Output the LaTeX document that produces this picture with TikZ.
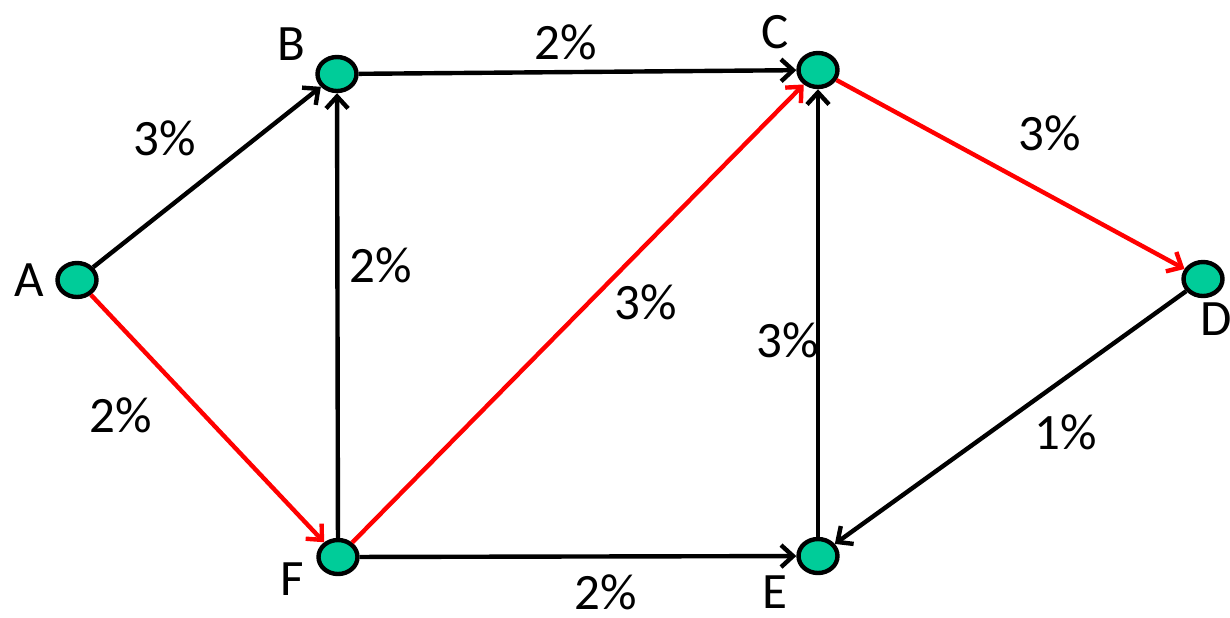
\documentclass[tikz,border=0pt]{standalone}
\usepackage{fontspec}
\setmainfont{Carlito}
\usetikzlibrary{arrows.meta,shapes.geometric}
\definecolor{nodegreen}{RGB}{0,204,153}
\definecolor{pathred}{RGB}{255,0,0}

\begin{document}
\begin{tikzpicture}[x=0.5pt, y=-0.5pt, font=\fontsize{25.5}{30}\selectfont,
	vertex/.style={ellipse, draw=black, line width=2.2pt, fill=nodegreen,
		minimum width=19.5pt, minimum height=17pt, inner sep=0pt},
	edge/.style={line width=2.2pt, -{Straight Barb[length=6pt, width=11pt, line width=2.2pt]}},
	lbl/.style={inner sep=0pt},
	]
	
	\useasboundingbox (0,0) rectangle (1230,617);
	
	% Vertices
	\node[vertex] (A) at (77,280) {};
	\node[vertex] (B) at (337,74) {};
	\node[vertex] (C) at (818,70) {};
	\node[vertex] (D) at (1203,279) {};
	\node[vertex] (E) at (818,556) {};
	\node[vertex] (F) at (338,557) {};
	
	% Vertex labels
	\node[lbl] (labA) at (29,280) {A};
	\node[lbl] (labB) at (291,44) {B};
	\node[lbl] (labC) at (775,32) {C};
	\node[lbl] (labD) at (1216,319) {D};
	\node[lbl] (labE) at (775,592) {E};
	\node[lbl] (labF) at (292,579) {F};
	
	% Black edges
	\draw[edge] (A) -- (B);
	\draw[edge] (B) -- (C);
	\draw[edge] (F) -- (B);
	\draw[edge] (E) -- (C);
	\draw[edge] (D) -- (E);
	\draw[edge] (F) -- (E);
	
	% Red path
	\draw[edge, pathred] (A) -- (F);
	\draw[edge, pathred] (F) -- (C);
	\draw[edge, pathred] (C) -- (D);
	
	% Edge weights
	\node[lbl] (wAB) at (165,138) {3\%};
	\node[lbl] (wBC) at (566,42) {2\%};
	\node[lbl] (wFB) at (381,265) {2\%};
	\node[lbl] (wFC) at (646,302) {3\%};
	\node[lbl] (wEC) at (788,340) {3\%};
	\node[lbl] (wCD) at (1050,133) {3\%};
	\node[lbl] (wDE) at (1066,432) {1\%};
	\node[lbl] (wAF) at (121,415) {2\%};
	\node[lbl] (wFE) at (606,592) {2\%};
	
\end{tikzpicture}
\end{document}
